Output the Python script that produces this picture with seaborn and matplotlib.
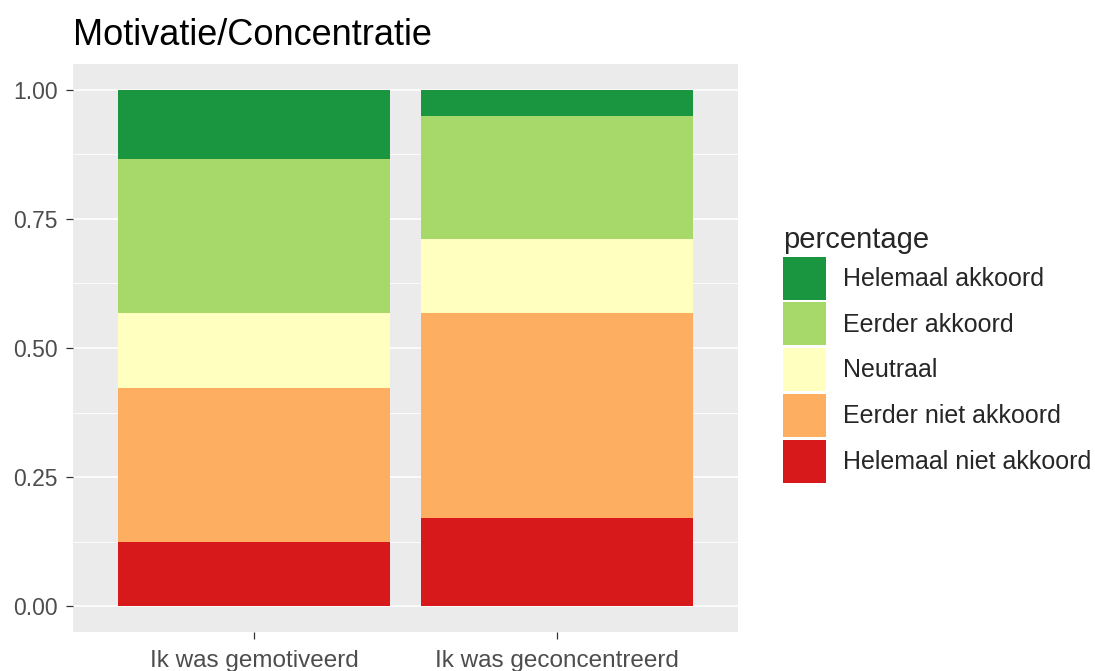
import numpy as np
import pandas as pd
import seaborn as sns
import matplotlib.pyplot as plt
from matplotlib.ticker import FixedLocator

questions = ["Ik was gemotiveerd", "Ik was geconcentreerd"]
levels = ["Helemaal akkoord", "Eerder akkoord", "Neutraal",
          "Eerder niet akkoord", "Helemaal niet akkoord"]
colors = ["#1a9641", "#a6d96a", "#ffffbf", "#fdae61", "#d7191c"]

# share per answer for each question
helemaal_akkoord = [0.134, 0.050]
eerder_akkoord = [0.299, 0.239]
neutraal = [0.144, 0.144]
eerder_niet_akkoord = [0.299, 0.396]
helemaal_niet_akkoord = [0.124, 0.171]

y_ticks = [0.0, 0.25, 0.5, 0.75, 1.0]
y_ticklabels = ["0.00", "0.25", "0.50", "0.75", "1.00"]

# stack from bottom to top, then draw the tallest first so smaller ones cover it
bottom_to_top = [helemaal_niet_akkoord, eerder_niet_akkoord, neutraal,
                 eerder_akkoord, helemaal_akkoord]
cum = np.cumsum(np.array(bottom_to_top), axis=0)[::-1]

rows = []
for lvl, tops in zip(levels, cum):
    for q, top in zip(questions, tops):
        rows.append({"vraag": q, "antwoord": lvl, "top": top})
df = pd.DataFrame(rows)

sns.set_theme(style="darkgrid", rc={
    "axes.facecolor": "#EBEBEB",
    "grid.color": "white",
    "grid.linewidth": 1.2,
    "xtick.color": "#333333",
    "ytick.color": "#333333",
    "xtick.labelcolor": "#4D4D4D",
    "ytick.labelcolor": "#4D4D4D",
    "xtick.bottom": True,
    "ytick.left": True,
    "xtick.major.size": 5,
    "ytick.major.size": 5,
    "xtick.major.width": 0.9,
    "ytick.major.width": 0.9,
    "xtick.major.pad": 8,
    "ytick.major.pad": 6,
})
plt.rcParams["font.family"] = ["Liberation Sans", "DejaVu Sans"]

fig = plt.figure(figsize=(10.95, 6.71), dpi=100)
ax = fig.add_axes([73 / 1095, 1 - 632 / 671, 665 / 1095, 568 / 671])

sns.barplot(data=df, x="vraag", y="top", hue="antwoord", hue_order=levels,
            palette=dict(zip(levels, colors)), dodge=False, width=0.9,
            errorbar=None, linewidth=0, saturation=1, ax=ax)

ax.set_xlim(-0.6, 1.6)
ax.set_ylim(-0.05, 1.05)
ax.set_yticks(y_ticks)
ax.set_yticklabels(y_ticklabels)
ax.yaxis.set_minor_locator(FixedLocator([0.125, 0.375, 0.625, 0.875]))
ax.grid(which="minor", axis="y", color="white", linewidth=0.6)
ax.tick_params(which="minor", length=0)
ax.tick_params(axis="x", labelsize=17.5)
ax.tick_params(axis="y", labelsize=16.5)
ax.set_xlabel("")
ax.set_ylabel("")
for s in ax.spines.values():
    s.set_visible(False)

ax.set_title("Motivatie/Concentratie", loc="left", fontsize=26, pad=14,
             color="black")

sns.move_legend(ax, loc="center left", bbox_to_anchor=(783 / 1095, 0.472),
                bbox_transform=fig.transFigure, title="percentage",
                frameon=False, fontsize=18, title_fontsize=21,
                handlelength=1.72, handleheight=2.27, labelspacing=0.11,
                handletextpad=0.68, borderpad=0, borderaxespad=0,
                alignment="left")

plt.savefig("out.png", dpi=100)
